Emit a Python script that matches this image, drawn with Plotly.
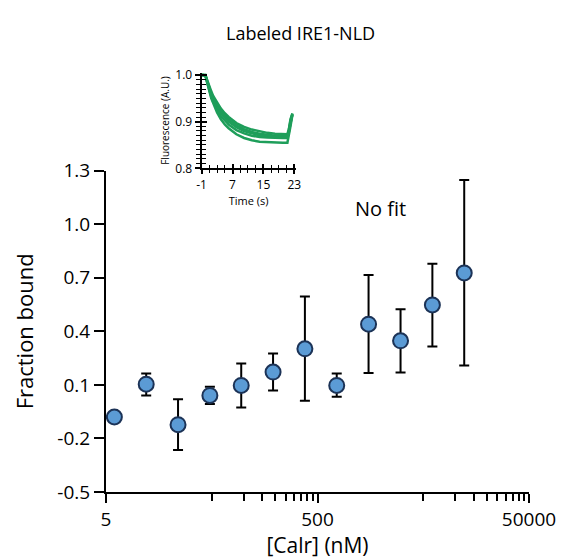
import plotly.graph_objects as go

# main binding data
calr_nm = [6, 12, 24, 48, 95, 190, 380, 760, 1520, 3050, 6100, 12200]
fraction_bound = [-0.08, 0.104, -0.123, 0.041, 0.097, 0.172, 0.302, 0.097, 0.44, 0.347, 0.548, 0.727]
err_plus = [0.0, 0.06, 0.143, 0.048, 0.123, 0.104, 0.293, 0.067, 0.275, 0.177, 0.23, 0.521]
err_minus = [0.0, 0.063, 0.142, 0.048, 0.124, 0.103, 0.291, 0.064, 0.274, 0.178, 0.233, 0.518]

y_ticks = [-0.5, -0.2, 0.1, 0.4, 0.7, 1.0, 1.3]
y_ticktext = ["-0.5", "-0.2", "0.1", "0.4", "0.7", "1.0", "1.3"]
x_major = [5, 500, 50000]
x_minor = [50, 100, 150, 200, 250, 300, 350, 400, 450,
           5000, 10000, 15000, 20000, 25000, 30000, 35000, 40000, 45000]

# inset: fluorescence traces
time_s = [-1, -0.5, 0, 0.5, 1, 1.5, 2, 3, 4, 5, 6, 8, 10, 12, 14, 16, 18, 20, 21.2, 21.6, 22, 22.5]
traces = [
    [1.0, 1.0, 1.0, 0.988, 0.975, 0.965, 0.955, 0.94, 0.928, 0.918, 0.91, 0.897, 0.889, 0.883, 0.879, 0.876, 0.874, 0.873, 0.873, 0.885, 0.905, 0.918],
    [1.0, 1.0, 1.0, 0.986, 0.972, 0.961, 0.951, 0.935, 0.923, 0.913, 0.905, 0.892, 0.884, 0.878, 0.874, 0.872, 0.870, 0.870, 0.870, 0.882, 0.902, 0.917],
    [1.0, 1.0, 0.999, 0.984, 0.969, 0.958, 0.948, 0.931, 0.918, 0.908, 0.900, 0.888, 0.880, 0.875, 0.871, 0.869, 0.868, 0.867, 0.867, 0.880, 0.900, 0.916],
    [1.0, 1.0, 0.999, 0.982, 0.966, 0.954, 0.944, 0.926, 0.912, 0.902, 0.894, 0.882, 0.875, 0.870, 0.867, 0.866, 0.865, 0.865, 0.865, 0.878, 0.898, 0.915],
    [1.0, 1.0, 0.998, 0.980, 0.963, 0.950, 0.940, 0.920, 0.905, 0.894, 0.886, 0.873, 0.865, 0.860, 0.857, 0.856, 0.855, 0.855, 0.855, 0.870, 0.890, 0.914],
]

FONT = "Open Sans"

fig = go.Figure()

fig.add_trace(go.Scatter(
    x=calr_nm, y=fraction_bound, mode="markers",
    marker=dict(size=15, color="#5b9bd5", line=dict(color="#1c3357", width=2)),
    error_y=dict(type="data", array=err_plus, arrayminus=err_minus,
                 color="black", thickness=2, width=5),
    showlegend=False,
))

for tr in traces:
    fig.add_trace(go.Scatter(
        x=time_s, y=tr, mode="lines", xaxis="x2", yaxis="y2",
        line=dict(color="#1e9e5a", width=2.5), showlegend=False,
    ))
# dummy trace so the overlay axes (crossing ticks) get drawn
fig.add_trace(go.Scatter(x=[None], y=[None], xaxis="x3", yaxis="y3", showlegend=False))

inset_x = dict(domain=[0.226, 0.448], range=[-1, 23.3], tickmode="array",
               tickvals=[-1, 7, 15, 23], showgrid=False, zeroline=False, automargin=False)
inset_y = dict(domain=[0.7493, 0.9706], range=[0.8, 1.005], tickmode="array",
               tickvals=[0.8, 0.9, 1.0], showgrid=False, zeroline=False, automargin=False)

fig.update_layout(
    width=565, height=559,
    margin=dict(l=106, r=36, t=60, b=67),
    paper_bgcolor="white", plot_bgcolor="white",
    font=dict(family=FONT, color="black"),
    xaxis=dict(
        type="log", range=[0.69897, 4.69897], domain=[0, 1], automargin=False,
        tickmode="array", tickvals=x_major, ticktext=["5", "500", "50000"],
        ticks="outside", ticklen=9, tickwidth=2, tickcolor="black",
        minor=dict(tickmode="array", tickvals=x_minor, ticks="outside",
                   ticklen=7, tickwidth=1.5, tickcolor="black"),
        showline=True, linecolor="black", linewidth=2,
        showgrid=False, zeroline=False, tickfont=dict(size=19),
        title=dict(text="[Calr] (nM)", font=dict(size=21), standoff=4),
    ),
    yaxis=dict(
        range=[-0.5, 1.3], domain=[0, 0.7438], automargin=False,
        tickmode="array", tickvals=y_ticks, ticktext=y_ticktext,
        ticks="outside", ticklen=10, tickwidth=2, tickcolor="black",
        showline=True, linecolor="black", linewidth=2,
        showgrid=False, zeroline=False, tickfont=dict(size=19),
        title=dict(text="Fraction bound", font=dict(size=22), standoff=18),
    ),
    xaxis2=dict(
        **inset_x, anchor="y2", ticktext=["-1", "7", "15", "23"],
        ticks="outside", ticklen=4, tickwidth=1.5, tickcolor="black",
        minor=dict(dtick=2, tick0=-1, ticks="outside", ticklen=3, tickwidth=1.2, tickcolor="black"),
        showline=True, linecolor="black", linewidth=2, tickfont=dict(size=12),
        title=dict(text="Time (s)", font=dict(size=11), standoff=0),
    ),
    yaxis2=dict(
        **inset_y, anchor="x2", ticktext=["0.8", "0.9", "1.0"],
        ticks="outside", ticklen=5, tickwidth=1.5, tickcolor="black",
        minor=dict(dtick=0.01, tick0=0.8, ticks="outside", ticklen=4, tickwidth=1.2, tickcolor="black"),
        showline=True, linecolor="black", linewidth=2, tickfont=dict(size=12),
        title=dict(text="Fluorescence (A.U.)", font=dict(size=10), standoff=4),
    ),
    xaxis3=dict(
        **inset_x, anchor="y3", overlaying="x2", showticklabels=False,
        ticks="inside", ticklen=4, tickwidth=1.5, tickcolor="black",
        minor=dict(dtick=2, tick0=-1, ticks="inside", ticklen=3, tickwidth=1.2, tickcolor="black"),
        showline=False,
    ),
    yaxis3=dict(
        **inset_y, anchor="x3", overlaying="y2", showticklabels=False,
        ticks="inside", ticklen=5, tickwidth=1.5, tickcolor="black",
        minor=dict(dtick=0.01, tick0=0.8, ticks="inside", ticklen=4, tickwidth=1.2, tickcolor="black"),
        showline=False,
    ),
    annotations=[
        dict(text="Labeled IRE1-NLD", x=0.459, y=1.0625, xref="paper", yref="paper",
             yanchor="middle", showarrow=False, font=dict(size=18)),
        dict(text="No fit", x=0.65, y=0.657, xref="paper", yref="paper",
             yanchor="middle", showarrow=False, font=dict(size=20)),
    ],
)

# the page's default body margin would shift the figure by 8px
fig.write_html("out.html", config={"displayModeBar": False},
               post_script="document.body.style.margin='0';")
